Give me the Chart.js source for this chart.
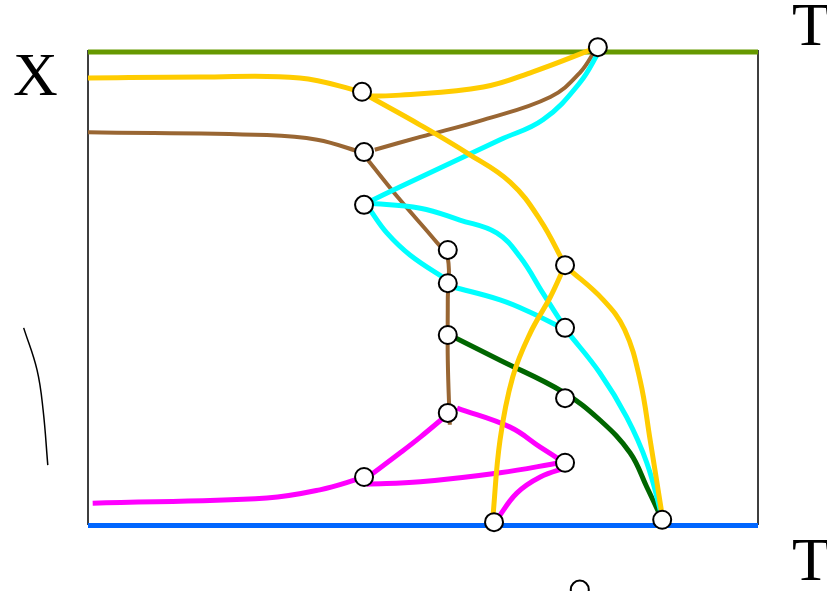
<!DOCTYPE html>
<html>
<head>
<meta charset="utf-8">
<script src="https://cdn.jsdelivr.net/npm/chart.js@4/dist/chart.umd.min.js"></script>
<style>
    body { margin: 0; background: #fff; }
    #wrap { position: relative; width: 827px; height: 591px; }
</style>
</head>
<body>
<div id="wrap"><canvas id="diagram"></canvas></div>
<script>
// all values in box units: x 0..100 left to right, y 0..100 bottom to top
const nodes = [
    {x: 76.1, y: 100.6}, {x: 40.9, y: 91.2}, {x: 41.2, y: 78.5}, {x: 41.2, y: 67.4},
    {x: 53.7, y: 57.9}, {x: 53.7, y: 50.9}, {x: 71.2, y: 54.7}, {x: 53.7, y: 40.0},
    {x: 71.2, y: 41.5}, {x: 53.7, y: 23.6}, {x: 71.2, y: 26.7}, {x: 41.2, y: 10.1},
    {x: 71.2, y: 13.1}, {x: 60.6, y: 0.6}, {x: 85.7, y: 1.1}, {x: 73.4, y: -13.6}
];

const topEdge = [{x: 0, y: 99.6}, {x: 100, y: 99.6}];
const bottomEdge = [{x: 0, y: -0.1}, {x: 100, y: -0.1}];

const yellowA = [{x: 0, y: 94.1}, {x: 16.7, y: 94.3}, {x: 31.6, y: 94.1}, {x: 40.9, y: 91.2}];
const yellowB = [{x: 41.8, y: 90.3}, {x: 46.6, y: 90.5}, {x: 59.0, y: 92.2}, {x: 66.4, y: 95.4}, {x: 76.1, y: 100.6}];
const yellowC = [{x: 42.1, y: 90.1}, {x: 49.6, y: 84.2}, {x: 56.6, y: 78.3}, {x: 63.0, y: 72.2}, {x: 67.5, y: 64.2}, {x: 71.2, y: 54.7}];
const yellowD = [{x: 71.6, y: 54.1}, {x: 76.9, y: 47.4}, {x: 80.1, y: 41.1}, {x: 82.4, y: 30.5}, {x: 83.9, y: 17.9}, {x: 85.8, y: 1.1}];
const yellowE = [{x: 60.4, y: 1.1}, {x: 61.5, y: 17.9}, {x: 63.4, y: 31.2}, {x: 66.0, y: 40.4}, {x: 69.0, y: 48.0}, {x: 71.2, y: 54.7}];

const brownA = [{x: 0, y: 82.7}, {x: 26.7, y: 82.1}, {x: 34.2, y: 81.1}, {x: 41.2, y: 78.3}];
const brownB = [{x: 42.8, y: 79.0}, {x: 49.6, y: 81.7}, {x: 59.0, y: 85.3}, {x: 69.0, y: 90.1}, {x: 73.4, y: 95.2}, {x: 75.9, y: 100.4}];
const brownC = [{x: 41.8, y: 76.8}, {x: 46.6, y: 68.4}, {x: 52.1, y: 59.4}, {x: 53.7, y: 56.2}, {x: 53.7, y: 47.4}, {x: 53.7, y: 34.7}, {x: 54.0, y: 21.1}];

const cyanA = [{x: 76.4, y: 100}, {x: 73.4, y: 93.1}, {x: 67.9, y: 85.3}, {x: 61.5, y: 81.1}, {x: 46.6, y: 71.2}, {x: 41.6, y: 67.8}];
const cyanB = [{x: 41.6, y: 67.8}, {x: 49.6, y: 66.7}, {x: 55.5, y: 64.2}, {x: 61.0, y: 61.5}, {x: 64.5, y: 56.4}, {x: 67.9, y: 48.8}, {x: 71.2, y: 41.5}];
const cyanC = [{x: 42.1, y: 66.3}, {x: 44.6, y: 61.5}, {x: 48.1, y: 56.8}, {x: 53.6, y: 51.6}];
const cyanD = [{x: 54.5, y: 50.1}, {x: 61.5, y: 47.4}, {x: 66.0, y: 44.8}, {x: 70.7, y: 41.5}];
const cyanE = [{x: 71.6, y: 40.6}, {x: 76.4, y: 32.0}, {x: 80.4, y: 22.7}, {x: 83.4, y: 13.1}, {x: 85.8, y: 1.1}];

const greenA = [{x: 54.8, y: 39.4}, {x: 61.5, y: 34.7}, {x: 70.9, y: 28.0}, {x: 76.4, y: 22.1}, {x: 80.9, y: 15.2}, {x: 83.4, y: 8.0}, {x: 85.7, y: 1.1}];

const magentaA = [{x: 0.7, y: 4.6}, {x: 26.7, y: 5.7}, {x: 34.6, y: 7.4}, {x: 40.9, y: 9.9}];
const magentaB = [{x: 41.6, y: 9.9}, {x: 46.6, y: 15.2}, {x: 49.6, y: 18.5}, {x: 53.6, y: 23.2}];
const magentaC = [{x: 55.1, y: 24.6}, {x: 63.0, y: 20.6}, {x: 67.5, y: 16.4}, {x: 70.9, y: 13.3}];
const magentaD = [{x: 41.6, y: 8.6}, {x: 49.6, y: 9.1}, {x: 61.5, y: 11.0}, {x: 70.4, y: 13.1}];
const magentaE = [{x: 71.6, y: 12.2}, {x: 67.5, y: 10.1}, {x: 64.0, y: 6.7}, {x: 61.0, y: 1.1}];

// small stroke left of the box, listed bottom to top
const sideMark = [{x: -6.0, y: 12.6}, {x: -6.7, y: 24.2}, {x: -7.6, y: 32.6}, {x: -9.6, y: 41.5}];

// labels drawn as text around the box
const labels = [
    {text: 'X', x: 13, y: 95},
    {text: 'T', x: 792, y: 45},
    {text: 'T', x: 792, y: 580}
];

function path(data, color, width) {
    return {
        data: data,
        showLine: true,
        borderColor: color,
        borderWidth: width || 5,
        tension: 0.4,
        pointRadius: 0,
        clip: false
    };
}

const frameAndText = {
    id: 'frameAndText',
    beforeDatasetsDraw(chart) {
        const {ctx, chartArea, scales} = chart;
        const y0 = scales.y.getPixelForValue(0);
        ctx.save();
        ctx.strokeStyle = '#000';
        ctx.lineWidth = 1.5;
        ctx.beginPath();
        ctx.moveTo(chartArea.left, chartArea.top);
        ctx.lineTo(chartArea.left, y0);
        ctx.moveTo(chartArea.right, chartArea.top);
        ctx.lineTo(chartArea.right, y0);
        ctx.stroke();
        ctx.restore();
    },
    afterDraw(chart) {
        const ctx = chart.ctx;
        ctx.save();
        ctx.fillStyle = '#000';
        ctx.font = '62px "Liberation Serif", serif';
        ctx.textBaseline = 'alphabetic';
        labels.forEach(l => ctx.fillText(l.text, l.x, l.y));
        ctx.restore();
    }
};

function initChart() {
    const ctx = document.getElementById('diagram').getContext('2d');
    new Chart(ctx, {
        type: 'scatter',
        data: {
            datasets: [
                {
                    data: nodes,
                    pointRadius: 9,
                    pointBackgroundColor: '#fff',
                    pointBorderColor: '#000',
                    pointBorderWidth: 2,
                    showLine: false,
                    clip: false
                },
                path(yellowA, '#ffcc00'),
                path(yellowB, '#ffcc00'),
                path(yellowC, '#ffcc00'),
                path(yellowD, '#ffcc00'),
                path(yellowE, '#ffcc00'),
                path(cyanA, '#00ffff'),
                path(cyanB, '#00ffff'),
                path(cyanC, '#00ffff'),
                path(cyanD, '#00ffff'),
                path(cyanE, '#00ffff'),
                path(greenA, '#006600'),
                path(brownA, '#996633', 4),
                path(brownB, '#996633', 4),
                path(brownC, '#996633', 4),
                path(magentaA, '#ff00ff'),
                path(magentaB, '#ff00ff'),
                path(magentaC, '#ff00ff'),
                path(magentaD, '#ff00ff'),
                path(magentaE, '#ff00ff'),
                path(sideMark, '#000', 1.5),
                {...path(topEdge, '#669900', 5), tension: 0},
                {...path(bottomEdge, '#0066ff', 5), tension: 0}
            ]
        },
        options: {
            responsive: true,
            maintainAspectRatio: false,
            animation: false,
            layout: { autoPadding: false, padding: { left: 88, right: 69, top: 50, bottom: 0 } },
            scales: {
                x: { type: 'linear', min: 0, max: 100, display: false },
                y: { type: 'linear', min: -13.9, max: 100, display: false }
            },
            plugins: {
                legend: { display: false },
                tooltip: { enabled: false }
            }
        },
        plugins: [frameAndText]
    });
}

document.addEventListener('DOMContentLoaded', initChart);
</script>
</body>
</html>
